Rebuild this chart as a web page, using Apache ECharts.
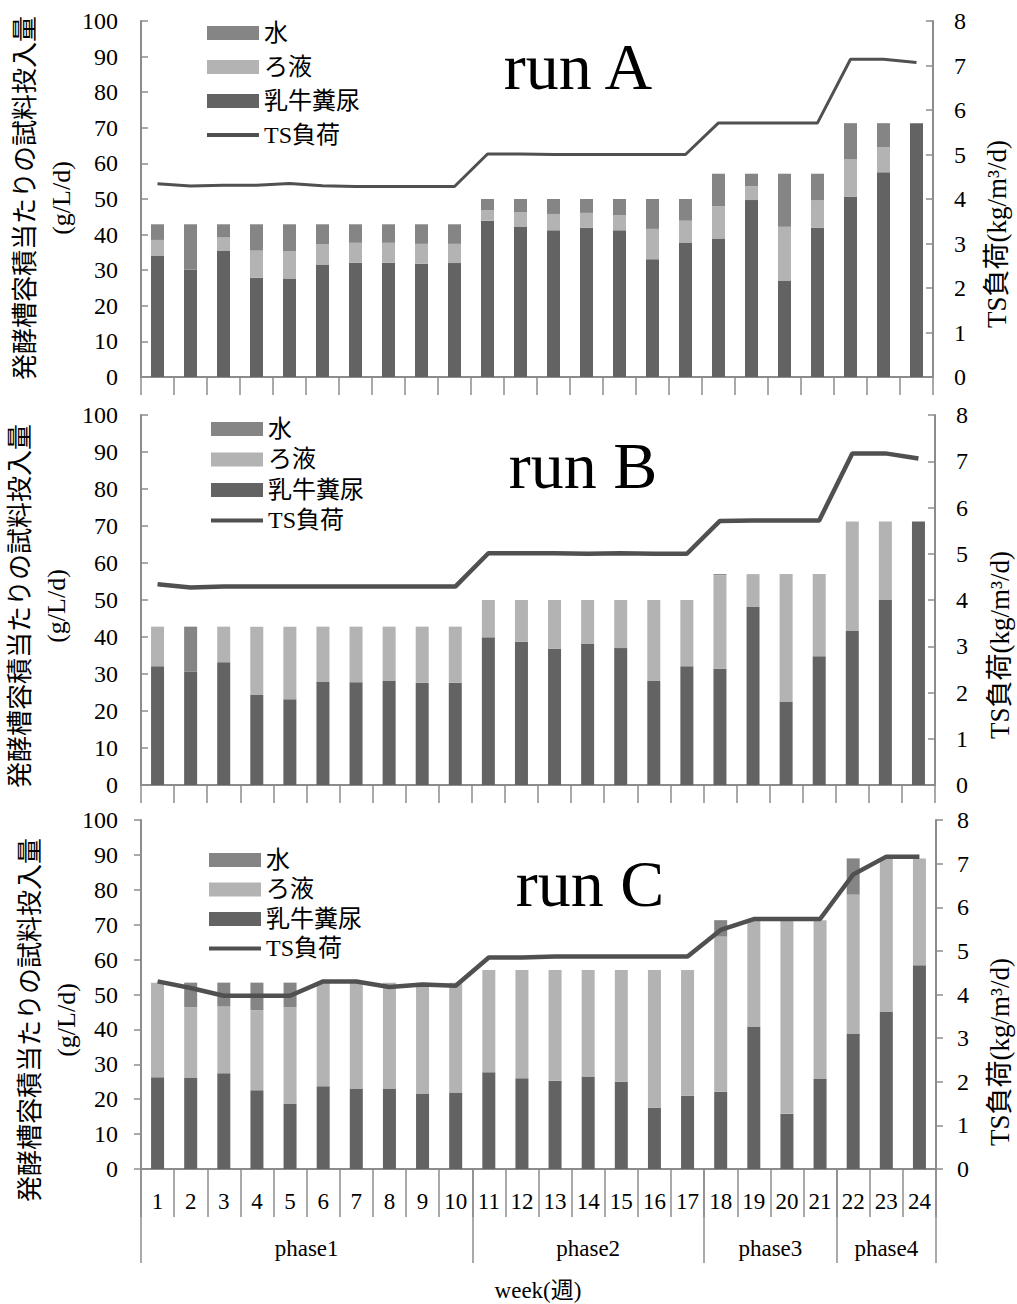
<!DOCTYPE html>
<html><head><meta charset="utf-8">
<script src="https://cdn.jsdelivr.net/npm/echarts@6/dist/echarts.min.js"></script>
<style>html,body{margin:0;padding:0;background:#fff}#c{width:1017px;height:1304px}</style>
</head><body><div id="c"></div><script>
// ---------- data ----------
const weeks = ['1','2','3','4','5','6','7','8','9','10','11','12','13','14','15','16','17','18','19','20','21','22','23','24'];
const phaseNames = ['phase1','phase2','phase3','phase4'];
const phaseBounds = [0, 10, 17, 21, 24];
const seriesNames = ['水', 'ろ液', '乳牛糞尿', 'TS負荷'];
const runTitles = ['run A', 'run B', 'run C'];
const leftAxisName = '発酵槽容積当たりの試料投入量\n(g/L/d)';
const rightAxisName = 'TS負荷(kg/m³/d)';
const xAxisName = 'week(週)';

// run A (g/L/d)
const dungA   = [34.1,30.2,35.5,27.9,27.7,31.6,32.1,32.1,31.8,32.0,43.9,42.3,41.2,41.9,41.2,33.1,37.8,38.9,49.7,27.1,41.9,50.6,57.5,71.3];
const filtA   = [4.4,0,3.7,7.6,7.7,5.7,5.6,5.6,5.6,5.4,3.0,4.0,4.6,4.2,4.3,8.5,6.1,9.1,3.9,15.1,7.7,10.5,7.0,0];
const waterA  = [4.4,12.7,3.7,7.4,7.5,5.6,5.2,5.2,5.5,5.5,3.1,3.7,4.2,3.9,4.5,8.4,6.1,9.1,3.5,14.9,7.5,10.2,6.8,0];
const tsA     = [4.34,4.29,4.31,4.31,4.35,4.30,4.28,4.28,4.28,4.28,5.01,5.01,5.00,5.00,5.00,5.00,5.00,5.71,5.71,5.71,5.71,7.14,7.14,7.07];
// run B
const dungB   = [32.1,30.6,33.2,24.3,23.2,28.0,27.8,28.1,27.6,27.6,39.9,38.7,36.8,38.1,37.0,28.1,32.1,31.4,48.1,22.6,34.8,41.6,50.0,71.2];
const filtB   = [10.7,0,9.6,18.5,19.6,14.8,15.0,14.7,15.2,15.2,10.1,11.3,13.2,11.9,13.0,21.9,17.9,25.3,8.9,34.4,22.2,29.6,21.2,0];
const waterB  = [0,12.2,0,0,0,0,0,0,0,0,0,0,0,0,0,0,0,0.3,0,0,0,0,0,0];
const tsB     = [4.34,4.27,4.29,4.29,4.29,4.29,4.29,4.29,4.29,4.29,5.01,5.01,5.01,5.00,5.01,5.00,5.00,5.71,5.72,5.72,5.72,7.17,7.17,7.06];
// run C
const dungC   = [26.3,26.2,27.4,22.6,18.8,23.7,23.1,23.1,21.6,21.9,27.7,26.0,25.3,26.5,25.0,17.6,21.0,22.1,40.8,15.8,25.8,38.8,45.1,58.4];
const filtC   = [27.1,20.1,19.2,22.9,27.5,29.7,30.3,30.3,31.8,31.5,29.3,31.0,31.7,30.5,32.0,39.4,36.0,44.5,30.5,55.5,45.5,39.8,43.9,30.6];
const waterC  = [0,7.1,6.8,7.9,7.1,0,0,0,0,0,0,0,0,0,0,0,0,4.7,0,0,0,10.4,0,0];
const tsC     = [4.30,4.15,3.97,3.97,3.97,4.30,4.30,4.17,4.23,4.20,4.85,4.85,4.87,4.87,4.87,4.87,4.87,5.48,5.73,5.73,5.73,6.75,7.16,7.16];

// ---------- styling / layout ----------
const FONT = 'Liberation Serif, Noto Sans CJK JP, serif';
const NUMFONT = 'Liberation Serif';
const AXIS_GRAY = '#8c8c8c';
const COL_WATER = '#858585', COL_FILT = '#b3b3b3', COL_DUNG = '#636363', COL_LINE = '#505050';
const LINE_ICON = 'path://M0,0 L52,0 L52,4 L0,4 Z';

const panels = [
  {dung: dungA, filt: filtA, water: waterA, ts: tsA,
   grid: {left: 141, top: 21, width: 792, height: 356}, inside: true, tickLen: 18,
   legend: {left: 207, top: 21, gap: 10}, lineWidth: 3,
   title: {x: 578, y: 66}, lname: {x: 43, y: 198}, rname: {x: 997, y: 234}},
  {dung: dungB, filt: filtB, water: waterB, ts: tsB,
   grid: {left: 141, top: 415, width: 794, height: 370}, inside: true, tickLen: 18,
   legend: {left: 211, top: 417, gap: 6.5}, lineWidth: 4.5,
   title: {x: 583, y: 465}, lname: {x: 38, y: 606}, rname: {x: 1000, y: 645}},
  {dung: dungC, filt: filtC, water: waterC, ts: tsC,
   grid: {left: 141, top: 820, width: 795, height: 349}, inside: false, tickLen: 48,
   legend: {left: 209, top: 848, gap: 5.5}, lineWidth: 4.5,
   title: {x: 590, y: 883}, lname: {x: 48, y: 1020}, rname: {x: 1000, y: 1052}}
];

const grids = [], xAxes = [], yAxes = [], series = [], legends = [], graphics = [];
const lblStyle = {color: '#000', fontFamily: NUMFONT, fontSize: 24};

panels.forEach((p, i) => {
  grids.push(Object.assign({containLabel: false}, p.grid));
  xAxes.push({
    type: 'category', gridIndex: i, data: weeks,
    axisLine: {lineStyle: {color: AXIS_GRAY, width: 2}},
    axisTick: {show: true, length: p.tickLen, lineStyle: {color: AXIS_GRAY, width: 1.5}},
    axisLabel: i === 2 ? Object.assign({}, lblStyle, {interval: 0, margin: 21, fontSize: 23}) : {show: false},
    splitLine: {show: false}
  });
  const yCommon = {
    type: 'value', gridIndex: i, splitLine: {show: false},
    axisLine: {show: true, lineStyle: {color: AXIS_GRAY, width: 2}},
    axisTick: {show: true, inside: p.inside, length: 7, lineStyle: {color: AXIS_GRAY, width: 1.5}}
  };
  yAxes.push(Object.assign({}, yCommon, {position: 'left', min: 0, max: 100, interval: 10,
    axisLabel: Object.assign({margin: 23}, lblStyle)}));
  yAxes.push(Object.assign({}, yCommon, {position: 'right', min: 0, max: 8, interval: 1,
    axisLabel: Object.assign({margin: 21}, lblStyle)}));

  const xi = i, yl = 2 * i, yr = 2 * i + 1;
  series.push({name: '乳牛糞尿', type: 'bar', stack: 's' + i, xAxisIndex: xi, yAxisIndex: yl,
    data: p.dung, barWidth: 13, itemStyle: {color: COL_DUNG}});
  series.push({name: 'ろ液', type: 'bar', stack: 's' + i, xAxisIndex: xi, yAxisIndex: yl,
    data: p.filt, barWidth: 13, itemStyle: {color: COL_FILT}});
  series.push({name: '水', type: 'bar', stack: 's' + i, xAxisIndex: xi, yAxisIndex: yl,
    data: p.water, barWidth: 13, itemStyle: {color: COL_WATER}});
  series.push({name: 'TS負荷', type: 'line', xAxisIndex: xi, yAxisIndex: yr,
    data: p.ts, symbol: 'none', showSymbol: false, lineStyle: {color: COL_LINE, width: p.lineWidth},
    itemStyle: {color: COL_LINE}, z: 5});

  legends.push({
    orient: 'vertical', left: p.legend.left, top: p.legend.top, padding: 0,
    itemWidth: 52, itemHeight: 14, itemGap: p.legend.gap,
    textStyle: {fontFamily: FONT, fontSize: 24, color: '#000'},
    data: seriesNames.map(n => n === 'TS負荷'
      ? {name: n, icon: LINE_ICON, itemStyle: {color: COL_LINE}}
      : {name: n, icon: 'rect'}),
    selectedMode: false
  });

  graphics.push({type: 'text', x: p.title.x, y: p.title.y,
    style: {text: runTitles[i], font: "66px Liberation Serif, serif", fill: '#000', textAlign: 'center', textVerticalAlign: 'middle'}});
  graphics.push({type: 'text', x: p.lname.x, y: p.lname.y, rotation: Math.PI / 2,
    style: {text: leftAxisName, font: "26px " + FONT, lineHeight: 36, fill: '#000', textAlign: 'center', textVerticalAlign: 'middle'}});
  graphics.push({type: 'text', x: p.rname.x, y: p.rname.y, rotation: Math.PI / 2,
    style: {text: rightAxisName, font: "27px " + FONT, fill: '#000', textAlign: 'center', textVerticalAlign: 'middle'}});
});

// phase grouping axis under run C
const phaseCenters = phaseNames.map((n, k) => (phaseBounds[k] + phaseBounds[k + 1]) / 2);
xAxes.push({
  type: 'value', gridIndex: 2, position: 'bottom', min: 0, max: 24,
  axisLine: {show: false}, splitLine: {show: false},
  axisTick: {show: true, customValues: phaseBounds, length: 94, lineStyle: {color: AXIS_GRAY, width: 1.5}},
  axisLabel: Object.assign({}, lblStyle, {customValues: phaseCenters, margin: 68, fontSize: 23,
    formatter: v => phaseNames[phaseCenters.indexOf(v)] || ''})
});

graphics.push({type: 'text', x: 538, y: 1290,
  style: {text: xAxisName, font: "23px " + FONT, fill: '#000', textAlign: 'center', textVerticalAlign: 'middle'}});

const chart = echarts.init(document.getElementById('c'), null, {renderer: 'svg'});
chart.setOption({
  animation: false,
  backgroundColor: '#fff',
  textStyle: {fontFamily: FONT},
  grid: grids, xAxis: xAxes, yAxis: yAxes, series: series, legend: legends,
  graphic: graphics
});
</script></body></html>
